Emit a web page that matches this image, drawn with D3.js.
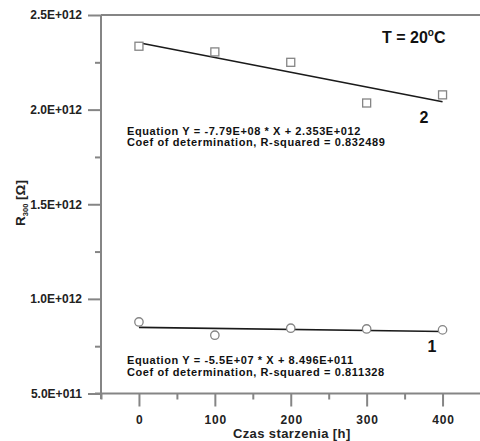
<!DOCTYPE html>
<html>
<head>
<meta charset="utf-8">
<script src="https://cdn.jsdelivr.net/npm/d3@7"></script>
<style>
  body { margin: 0; background: #fff; }
  text { font-family: "Liberation Sans", Arial, sans-serif; }
</style>
</head>
<body>
<div id="chart"></div>
<script>
// aging time [h]
const hours = [0, 100, 200, 300, 400];
// series 2 (squares) and series 1 (circles), R300 in ohm
const series2 = [2.335e12, 2.305e12, 2.25e12, 2.035e12, 2.078e12];
const series1 = [0.878e12, 0.808e12, 0.845e12, 0.841e12, 0.836e12];
// linear fits: [slope, intercept]
const fit2 = [-7.79e8, 2.353e12];
const fit1 = [-5.5e7, 8.496e11];
const eq2 = ["Equation Y = -7.79E+08 * X + 2.353E+012", "Coef of determination, R-squared = 0.832489"];
const eq1 = ["Equation Y = -5.5E+07 * X + 8.496E+011", "Coef of determination, R-squared = 0.811328"];
const yTicks = [5e11, 1e12, 1.5e12, 2e12, 2.5e12];
const yTickLabels = ["5.0E+011", "1.0E+012", "1.5E+012", "2.0E+012", "2.5E+012"];
const xTicks = [0, 100, 200, 300, 400];

const width = 480, height = 441;
const axisColor = "#858585";

let svg = d3.select("#chart").append("svg")
  .attr("width", width).attr("height", height);

/** SCALES */
let x = d3.scaleLinear().domain([-50, 450]).range([101, 480.5]);
let y = d3.scaleLinear().domain([5e11, 2.5e12]).range([393.5, 15]);

/** AXES */
let yAxis = svg.append("g").attr("transform", "translate(101,0)")
  .call(d3.axisLeft(y).tickValues(yTicks).tickFormat((d, i) => yTickLabels[i]).tickSize(13).tickPadding(6));
let yMinor = svg.append("g").attr("transform", "translate(101,0)")
  .call(d3.axisLeft(y).tickValues([7.5e11, 1.25e12, 1.75e12, 2.25e12]).tickFormat("").tickSize(6));
let xAxis = svg.append("g").attr("transform", "translate(0,393.5)")
  .call(d3.axisBottom(x).tickValues(xTicks).tickSize(13).tickPadding(9));
let xMinor = svg.append("g").attr("transform", "translate(0,393.5)")
  .call(d3.axisBottom(x).tickValues([-50, 50, 150, 250, 350]).tickFormat("").tickSize(6));

[yAxis, yMinor, xAxis, xMinor].forEach(g => {
  g.select(".domain").remove();
  g.selectAll("line").attr("stroke", axisColor).attr("stroke-width", 2);
  g.selectAll("text").attr("font-size", 12).attr("font-weight", "bold").attr("fill", "#222");
});
xAxis.selectAll("text").attr("letter-spacing", 0.8).attr("dx", 0.4);

// axis lines (left, bottom, top)
svg.append("line").attr("x1", 101).attr("x2", 101).attr("y1", 15).attr("y2", 399)
  .attr("stroke", axisColor).attr("stroke-width", 2);
svg.append("line").attr("x1", 95).attr("x2", width).attr("y1", 393.5).attr("y2", 393.5)
  .attr("stroke", axisColor).attr("stroke-width", 2);
svg.append("line").attr("x1", 101).attr("x2", width).attr("y1", 15).attr("y2", 15)
  .attr("stroke", axisColor).attr("stroke-width", 2);

/** AXIS TITLES */
svg.append("text")
  .attr("x", (x(-50) + x(450)) / 2 + 1).attr("y", 438)
  .attr("text-anchor", "middle").attr("font-size", 13).attr("font-weight", "bold")
  .attr("letter-spacing", 0.4).attr("fill", "#222")
  .text("Czas starzenia [h]");

let yTitle = svg.append("text")
  .attr("transform", "translate(25,203) rotate(-90)")
  .attr("text-anchor", "middle").attr("font-size", 13.5).attr("font-weight", "bold").attr("fill", "#222");
yTitle.append("tspan").text("R");
yTitle.append("tspan").attr("font-size", 7.5).attr("dy", 3).text("300");
yTitle.append("tspan").attr("dy", -3).text(" [Ω]");

/** FIT LINES */
[fit2, fit1].forEach(f => {
  svg.append("line")
    .attr("x1", x(0)).attr("y1", y(f[1] + f[0] * 0))
    .attr("x2", x(400)).attr("y2", y(f[1] + f[0] * 400))
    .attr("stroke", "#1a1a1a").attr("stroke-width", 1.6);
});

/** MARKERS */
svg.append("g").selectAll("rect")
  .data(hours.map((h, i) => ({h: h, v: series2[i]})))
  .enter().append("rect")
  .attr("x", d => x(d.h) - 4).attr("y", d => y(d.v) - 4)
  .attr("width", 8).attr("height", 8)
  .attr("fill", "white").attr("stroke", "#858585").attr("stroke-width", 1.3);

svg.append("g").selectAll("circle")
  .data(hours.map((h, i) => ({h: h, v: series1[i]})))
  .enter().append("circle")
  .attr("cx", d => x(d.h)).attr("cy", d => y(d.v)).attr("r", 4.2)
  .attr("fill", "white").attr("stroke", "#858585").attr("stroke-width", 1.3);

/** ANNOTATIONS */
function eqText(lines, yPos){
  svg.append("g").selectAll("text").data(lines).enter().append("text")
    .attr("x", 127).attr("y", (d, i) => yPos + i * 11.5)
    .attr("font-size", 11).attr("font-weight", "bold").attr("letter-spacing", 0.6).attr("fill", "#111")
    .text(d => d);
}
eqText(eq2, 134.5);
eqText(eq1, 364);

svg.append("text").attr("x", 424).attr("y", 123).attr("text-anchor", "middle")
  .attr("font-family", "Lato, sans-serif").attr("font-size", 16).attr("font-weight", "bold").attr("fill", "#111")
  .text("2");
svg.append("text").attr("x", 432).attr("y", 352).attr("text-anchor", "middle")
  .attr("font-family", "Lato, sans-serif").attr("font-size", 16).attr("font-weight", "bold").attr("fill", "#111")
  .text("1");

let tLabel = svg.append("text").attr("x", 382).attr("y", 43)
  .attr("font-family", "Lato, sans-serif").attr("font-size", 16).attr("font-weight", "bold").attr("fill", "#111");
tLabel.append("tspan").text("T = 20");
tLabel.append("tspan").attr("font-size", 10).attr("dy", -7).text("o");
tLabel.append("tspan").attr("dy", 7).text("C");
</script>
</body>
</html>
